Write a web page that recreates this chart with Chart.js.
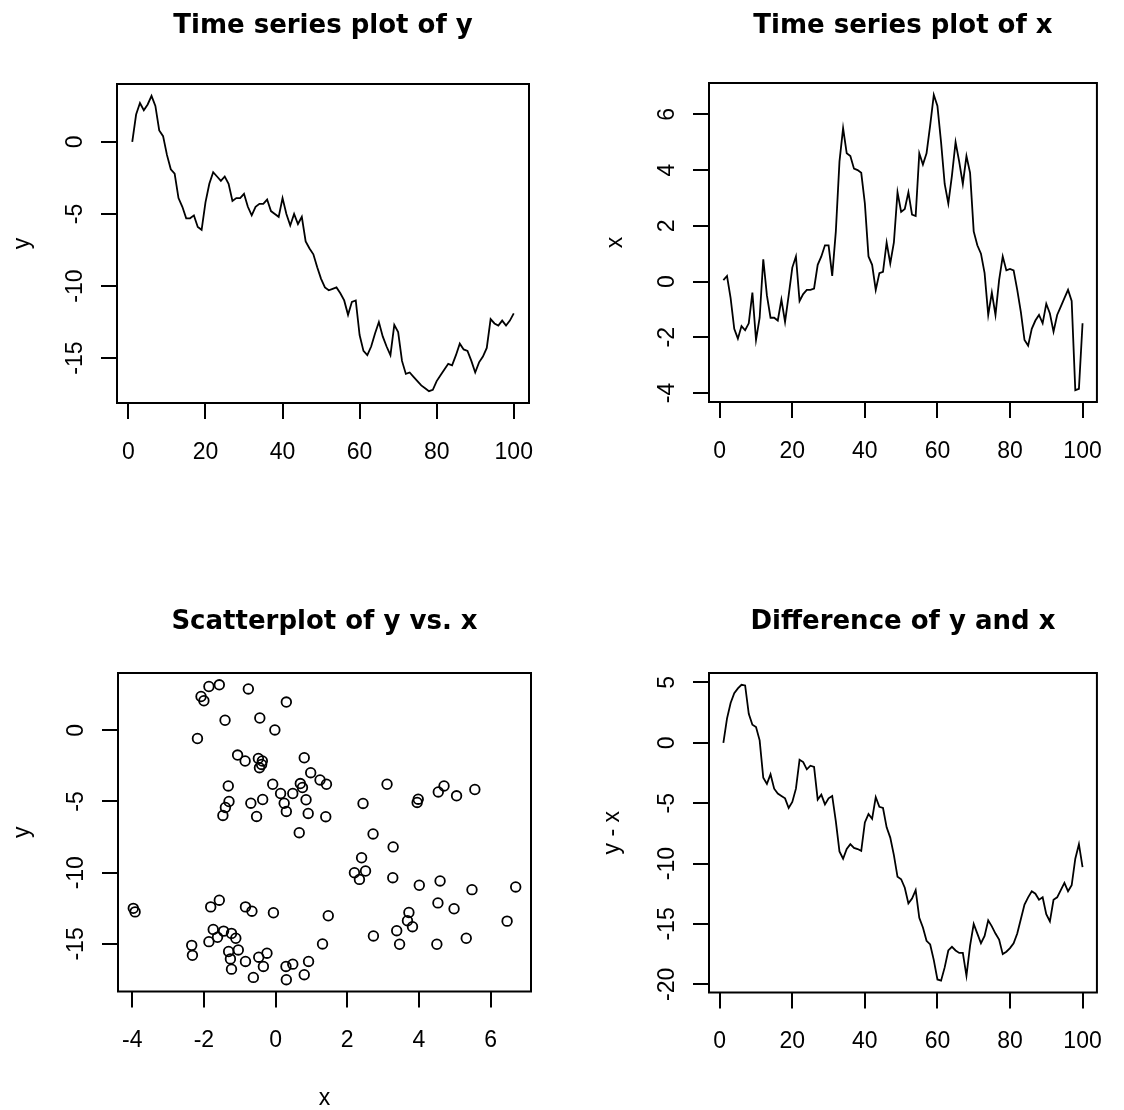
<!DOCTYPE html>
<html>
<head>
<meta charset="utf-8">
<script src="https://cdn.jsdelivr.net/npm/chart.js@4.4.0/dist/chart.umd.min.js"></script>
<style>
  html, body { margin: 0; padding: 0; background: #fff; }
  #page { position: relative; width: 1124px; height: 1110px; overflow: hidden; }
  canvas { position: absolute; }
</style>
</head>
<body>
<div id="page">
  <canvas id="tsY" width="562" height="555" style="left:0px;top:0px"></canvas>
  <canvas id="tsX" width="562" height="555" style="left:562px;top:0px"></canvas>
  <canvas id="scat" width="562" height="555" style="left:0px;top:555px"></canvas>
  <canvas id="diff" width="562" height="555" style="left:562px;top:555px"></canvas>
</div>
<script>
// ---- data ----
const ySeries = [
  0, 1.9, 2.7, 2.2, 2.6, 3.2, 2.5, 0.8, 0.4, -0.9,
  -1.9, -2.2, -3.9, -4.5, -5.3, -5.3, -5.1, -5.9, -6.1, -4.2,
  -2.9, -2.1, -2.4, -2.7, -2.4, -2.9, -4.1, -3.9, -3.9, -3.6,
  -4.5, -5.1, -4.5, -4.3, -4.3, -4.0, -4.8, -5.0, -5.2, -3.9,
  -5.0, -5.8, -5.0, -5.7, -5.2, -6.9, -7.4, -7.8, -8.7, -9.5,
  -10.1, -10.3, -10.2, -10.1, -10.5, -11.0, -12.0, -11.1, -11.0, -13.4,
  -14.5, -14.8, -14.2, -13.3, -12.5, -13.5, -14.2, -14.8, -12.7, -13.2,
  -15.2, -16.1, -16.0, -16.3, -16.6, -16.9, -17.1, -17.3, -17.2, -16.6,
  -16.2, -15.8, -15.4, -15.5, -14.8, -14.0, -14.4, -14.5, -15.2, -16.0,
  -15.3, -14.9, -14.3, -12.3, -12.6, -12.75, -12.4, -12.75, -12.4, -11.9
];
const xSeries = [
  0.05, 0.2, -0.6, -1.7, -2.05, -1.6, -1.75, -1.5, -0.4, -2.1,
  -1.3, 0.8, -0.5, -1.3, -1.3, -1.4, -0.65, -1.45, -0.5, 0.5,
  0.9, -0.7, -0.45, -0.3, -0.3, -0.25, 0.6, 0.9, 1.3, 1.3,
  0.2, 1.8, 4.3, 5.5, 4.6, 4.5, 4.05, 4.0, 3.9, 2.8,
  0.9, 0.6, -0.3, 0.3, 0.35, 1.4, 0.65, 1.4, 3.2, 2.5,
  2.6, 3.2, 2.4, 2.35, 4.6, 4.2, 4.6, 5.6, 6.7, 6.3,
  5.0, 3.5, 2.8, 3.8, 5.0, 4.3, 3.5, 4.5, 3.9, 1.8,
  1.3, 1.0, 0.3, -1.2, -0.4, -1.2, 0.05, 0.9, 0.4, 0.45,
  0.4, -0.3, -1.1, -2.1, -2.3, -1.7, -1.4, -1.2, -1.5, -0.8,
  -1.15, -1.8, -1.2, -0.9, -0.6, -0.3, -0.7, -3.9, -3.85, -1.5
];
const diffSeries = [
  0, 2.0, 3.3, 4.1, 4.5, 4.8, 4.75, 2.4, 1.5, 1.3,
  0.2, -2.9, -3.4, -2.6, -3.8, -4.2, -4.4, -4.6, -5.4, -4.9,
  -3.8, -1.4, -1.6, -2.2, -1.9, -2.0, -4.7, -4.3, -5.1, -4.6,
  -4.4, -6.5, -9.0, -9.6, -8.8, -8.4, -8.7, -8.8, -8.95, -6.6,
  -5.9, -6.3, -4.5, -5.3, -5.4, -7.0, -7.85, -9.3, -11.1, -11.3,
  -12.0, -13.3, -12.9, -12.2, -14.5, -15.3, -16.4, -16.7, -18.0, -19.6,
  -19.7, -18.6, -17.2, -16.9, -17.2, -17.4, -17.4, -19.3, -16.8, -15.0,
  -15.8, -16.6, -16.0, -14.7, -15.2, -15.8, -16.3, -17.5, -17.3, -17.0,
  -16.6, -15.8, -14.6, -13.4, -12.8, -12.3, -12.5, -13.0, -12.8, -14.2,
  -14.8, -13.0, -12.8, -12.2, -11.6, -12.3, -11.8, -9.6, -8.4, -10.3
];
const scatterX = [
  -3.97, -3.92, -2.34, -2.32, -2.18, -2.08, -2.0, -1.86, -1.57, -0.76,
  0.3, -1.41, -0.44, -0.02, -1.06, -0.85, -0.48, -0.37, -0.45, -0.39,
  0.8, 0.98, 1.24, 1.42, 0.69, 0.75, -0.08, 0.14, 0.48, 0.24,
  0.3, 0.85, 0.91, 1.4, 0.66, -1.32, -1.3, -1.4, -1.47, -0.69,
  -0.36, -0.53, 2.44, 3.11, 3.95, 3.98, 4.54, 4.7, 5.05, 5.56,
  2.72, 3.28, 2.4, 2.2, 2.34, 2.51, 3.27, 4.01, 4.59, 5.48,
  6.7, 4.53, 4.98, 3.72, 3.68, 3.82, 3.38, 3.46, 2.73, 4.5,
  5.32, 6.46, 1.47, 1.31, -0.06, -0.84, -0.66, -1.57, -1.81, -1.74,
  -1.86, -1.62, -1.45, -1.23, -1.11, -1.31, -1.26, -1.04, -1.23, -0.84,
  -0.47, -0.24, -0.34, -0.62, 0.29, 0.48, 0.92, 0.3, 0.8
];
const scatterY = [
  -12.5, -12.75, -15.1, -15.8, -0.58, 2.37, 2.07, 3.07, 3.19, 2.9,
  1.98, 0.7, 0.86, 0.02, -1.74, -2.16, -1.98, -2.16, -2.63, -2.4,
  -1.93, -2.98, -3.49, -3.79, -3.74, -4.02, -3.79, -4.44, -4.44, -5.12,
  -5.7, -4.88, -5.84, -6.07, -7.19, -3.91, -5.0, -5.42, -5.98, -5.12,
  -4.86, -6.05, -5.14, -3.79, -5.07, -4.84, -4.33, -3.91, -4.6, -4.16,
  -7.28, -8.19, -8.95, -10.0, -10.47, -9.88, -10.35, -10.88, -10.58, -11.19,
  -11.0, -12.12, -12.53, -12.79, -13.37, -13.79, -14.07, -15.02, -14.44, -15.02,
  -14.6, -13.4, -13.02, -15.0, -12.81, -12.4, -12.7, -11.93, -12.4, -13.98,
  -14.84, -14.53, -14.1, -14.26, -14.6, -15.53, -16.05, -15.42, -16.77, -16.23,
  -15.93, -15.65, -16.58, -17.35, -16.58, -16.42, -16.23, -17.51, -17.16
];
const timeIndex = ySeries.map((v, i) => i + 1);

const timeTicks = [0, 20, 40, 60, 80, 100];
const yTicks = [-15, -10, -5, 0];
const xTicks = [-4, -2, 0, 2, 4, 6];
const diffTicks = [-20, -15, -10, -5, 0, 5];

// ---- R-like look ----
const tickFont = { family: 'Liberation Sans', size: 23, lineHeight: 1 };

// R pads the data range by 4% on each side
function rRange(arr) {
  const lo = Math.min(...arr), hi = Math.max(...arr);
  const pad = (hi - lo) * 0.04;
  return { min: lo - pad, max: hi + pad };
}

// box round the plot region, vertical y tick labels and the main title
const rStyle = {
  id: 'rStyle',
  afterDraw(chart, args, opts) {
    const { ctx, chartArea: a } = chart;
    const ys = chart.scales.y;
    ctx.save();
    ctx.strokeStyle = '#000';
    ctx.lineWidth = 2;
    ctx.strokeRect(a.left, a.top, a.right - a.left, a.bottom - a.top);

    ctx.fillStyle = '#000';
    ctx.font = '23px "Liberation Sans"';
    ctx.textAlign = 'center';
    ctx.textBaseline = 'middle';
    ys.ticks.forEach(t => {
      ctx.save();
      ctx.translate(a.left - 41, ys.getPixelForValue(t.value));
      ctx.rotate(-Math.PI / 2);
      ctx.fillText(String(t.value), 0, 0);
      ctx.restore();
    });

    ctx.font = 'bold 26px "DejaVu Sans"';
    ctx.textBaseline = 'alphabetic';
    ctx.fillText(opts.text, (a.left + a.right) / 2, opts.baseline);
    ctx.restore();
  }
};

function axis(range, ticks, extra) {
  return Object.assign({
    type: 'linear',
    min: range.min,
    max: range.max,
    afterBuildTicks: s => { s.ticks = ticks.map(v => ({ value: v })); },
    grid: { drawOnChartArea: false, drawTicks: true, tickLength: 16, color: '#000', lineWidth: 2 },
    border: { display: false },
  }, extra);
}

function makeChart(id, type, datasets, L) {
  return new Chart(document.getElementById(id), {
    type: type,
    data: { datasets: datasets },
    plugins: [rStyle],
    options: {
      responsive: false,
      animation: false,
      layout: { padding: { left: 0, top: L.top, right: L.right, bottom: 0 } },
      plugins: {
        legend: { display: false },
        tooltip: { enabled: false },
        rStyle: { text: L.title, baseline: L.titleBaseline }
      },
      scales: {
        x: axis(L.xRange, L.xTicks, {
          afterFit: s => { s.height = L.xHeight; },
          ticks: { font: tickFont, color: '#000', padding: 22, maxRotation: 0, autoSkip: false, callback: v => String(v) },
          title: { display: !!L.xTitle, text: L.xTitle || '', color: '#000', font: tickFont, padding: { top: 0, bottom: 0 } }
        }),
        y: axis(L.yRange, L.yTicks, {
          afterFit: s => { s.width = L.yWidth; },
          ticks: { display: false },
          title: { display: true, text: L.yTitle, color: '#000', font: tickFont, padding: { top: L.yTitlePad, bottom: 0 } }
        })
      }
    }
  });
}

function lineSet(values) {
  return [{
    data: timeIndex.map((t, i) => ({ x: t, y: values[i] })),
    borderColor: '#000',
    borderWidth: 1.8,
    pointRadius: 0,
    tension: 0,
    fill: false
  }];
}

const timeRange = rRange(timeIndex);

makeChart('tsY', 'line', lineSet(ySeries), {
  title: 'Time series plot of y', titleBaseline: 33,
  top: 84, right: 33, yWidth: 117, xHeight: 152,
  xRange: timeRange, xTicks: timeTicks,
  yRange: rRange(ySeries), yTicks: yTicks,
  yTitle: 'y', yTitlePad: 11
});

makeChart('tsX', 'line', lineSet(xSeries), {
  title: 'Time series plot of x', titleBaseline: 33,
  top: 83, right: 7, yWidth: 147, xHeight: 153,
  xRange: timeRange, xTicks: timeTicks,
  yRange: rRange(xSeries), yTicks: [-4, -2, 0, 2, 4, 6],
  yTitle: 'x', yTitlePad: 42
});

makeChart('scat', 'scatter', [{
  data: scatterX.map((v, i) => ({ x: v, y: scatterY[i] })),
  pointStyle: 'circle',
  pointRadius: 4.8,
  borderColor: '#000',
  borderWidth: 1.8,
  backgroundColor: 'rgba(0,0,0,0)'
}], {
  title: 'Scatterplot of y vs. x', titleBaseline: 74,
  top: 118, right: 31, yWidth: 118, xHeight: 118.5,
  xRange: rRange(scatterX), xTicks: xTicks,
  yRange: rRange(scatterY), yTicks: yTicks,
  xTitle: 'x', yTitle: 'y', yTitlePad: 11.5
});

makeChart('diff', 'line', lineSet(diffSeries), {
  title: 'Difference of y and x', titleBaseline: 74,
  top: 118, right: 7, yWidth: 147, xHeight: 117.5,
  xRange: timeRange, xTicks: timeTicks,
  yRange: rRange(diffSeries), yTicks: diffTicks,
  yTitle: 'y - x', yTitlePad: 39.5
});
</script>
</body>
</html>
